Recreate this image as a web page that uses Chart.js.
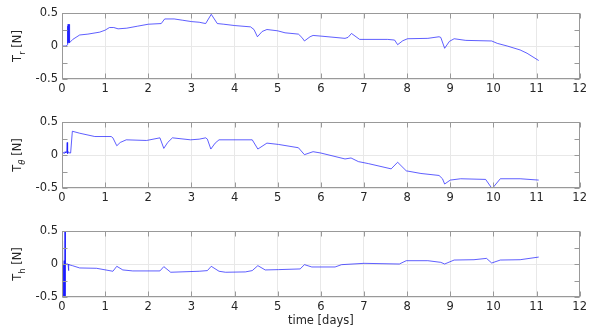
<!DOCTYPE html>
<html>
<head>
<meta charset="utf-8">
<script src="https://cdn.jsdelivr.net/npm/chart.js@4.4.1/dist/chart.umd.min.js"></script>
<style>
  body { margin: 0; background: #fff; width: 590px; height: 328px; position: relative; overflow: hidden; }
  canvas { position: absolute; left: 0; }
</style>
</head>
<body>
<canvas id="c1" width="590" height="99" style="top:0px"></canvas>
<canvas id="c2" width="590" height="99" style="top:109px"></canvas>
<canvas id="c3" width="590" height="110" style="top:218px"></canvas>
<script>
// x ticks (days) and y ticks shared by all three panels
var xTicks = [0,1,2,3,4,5,6,7,8,9,10,11,12];
var yTicks = [-0.5,-0.25,0,0.25,0.5];

// T_r
var trTime = [0,0.10,0.125,0.13,0.135,0.14,0.145,0.15,0.155,0.16,0.165,0.17,0.175,0.18,0.25,0.41,0.6,0.875,1.0,1.1,
  1.2,1.3,1.5,1.75,2.0,2.3,2.38,2.6,2.8,3.0,3.18,3.33,3.46,3.6,3.75,4.0,4.37,4.45,4.53,4.64,
  4.75,5.0,5.17,5.48,5.56,5.62,5.75,5.82,6.0,6.56,6.63,6.71,6.9,7.0,7.55,7.71,7.78,7.9,8.01,8.48,
  8.74,8.78,8.87,8.98,9.09,9.36,9.96,10.09,10.32,10.62,10.78,11.05];
var trValues = [0,0,0.02,0.30,0.04,0.33,0.05,0.32,0.06,0.30,0.05,0.33,0.07,0.05,0.10,0.167,0.18,0.21,0.24,0.28,
  0.28,0.26,0.27,0.30,0.33,0.34,0.41,0.41,0.39,0.37,0.36,0.34,0.48,0.34,0.33,0.31,0.29,0.25,0.14,0.22,
  0.25,0.23,0.20,0.18,0.13,0.076,0.14,0.16,0.15,0.116,0.13,0.19,0.10,0.10,0.10,0.09,0.02,0.08,0.11,0.116,
  0.14,0.13,-0.035,0.07,0.11,0.085,0.076,0.04,0.0,-0.06,-0.11,-0.22];

// T_theta
var tthTime = [0,0.03,0.05,0.07,0.09,0.11,0.12,0.13,0.15,0.17,0.2,0.24,0.41,0.76,1.14,1.18,1.27,1.35,1.49,1.96,
  2.27,2.36,2.45,2.56,2.98,3.18,3.33,3.37,3.45,3.55,3.64,4.41,4.54,4.75,5.02,5.48,5.62,5.82,6.0,6.56,
  6.7,6.87,7.1,7.63,7.78,7.98,8.32,8.74,8.82,8.87,9.0,9.24,9.82,9.97,10.16,10.62,11.05];
var tthValues = [0.02,0.04,0.02,0.05,0.03,0.06,0.19,0.02,0.05,0.03,0.03,0.36,0.33,0.28,0.28,0.26,0.14,0.19,0.23,0.22,
  0.26,0.10,0.19,0.26,0.23,0.24,0.26,0.24,0.09,0.18,0.23,0.23,0.09,0.18,0.16,0.11,0.005,0.05,0.03,-0.06,
  -0.045,-0.10,-0.13,-0.21,-0.11,-0.24,-0.28,-0.31,-0.36,-0.44,-0.38,-0.36,-0.37,-0.51,-0.36,-0.36,-0.38];

// T_h
var thTime = [0,0.005,0.01,0.015,0.02,0.025,0.03,0.035,0.04,0.045,0.05,0.055,0.06,0.065,0.07,0.075,0.08,0.14,0.15,0.16,
  0.24,0.41,0.8,1.18,1.27,1.41,1.64,2.27,2.36,2.52,3.18,3.37,3.46,3.64,3.79,4.25,4.41,4.54,4.71,5.02,
  5.52,5.62,5.79,6.33,6.48,7.0,7.82,7.98,8.48,8.78,8.87,9.09,9.55,9.84,9.96,10.16,10.62,11.05];
var thValues = [0,-0.9,0.1,-0.8,0.35,-0.9,0.0,-0.7,-0.02,-0.9,0.05,-0.8,0.0,-0.85,0.8,-0.6,0.0,0.0,-0.1,-0.01,
  -0.025,-0.06,-0.065,-0.11,-0.035,-0.09,-0.105,-0.105,-0.04,-0.125,-0.11,-0.10,-0.035,-0.11,-0.125,-0.12,-0.10,-0.025,-0.09,-0.085,
  -0.075,-0.01,-0.045,-0.045,-0.01,0.01,0.0,0.05,0.05,0.025,0.0,0.06,0.065,0.085,0.015,0.06,0.065,0.105];

var FONT = 'DejaVu Sans';
var TXT = '#262626';
var BOX = '#999999';
var GRID = '#e8e8e8';

function pts(xs, ys) {
  return xs.map(function (x, i) { return { x: x, y: ys[i] }; });
}

// box, inward ticks and the subscripted y label, drawn MATLAB style
var axesBox = {
  id: 'axesBox',
  afterDraw: function (chart, args, opts) {
    var ctx = chart.ctx, a = chart.chartArea;
    var L = Math.round(a.left) + 0.5, R = Math.round(a.right) - 0.5;
    var T = Math.round(a.top) + 0.5, B = Math.round(a.bottom) - 0.5;
    ctx.save();
    ctx.strokeStyle = BOX;
    ctx.lineWidth = 1;
    ctx.strokeRect(L, T, R - L, B - T);
    ctx.beginPath();
    xTicks.forEach(function (v) {
      var px = Math.round(chart.scales.x.getPixelForValue(v)) + 0.5;
      ctx.moveTo(px, B); ctx.lineTo(px, B - 5);
      ctx.moveTo(px, T); ctx.lineTo(px, T + 5);
    });
    yTicks.forEach(function (v) {
      var py = Math.round(chart.scales.y.getPixelForValue(v)) + 0.5;
      ctx.moveTo(L, py); ctx.lineTo(L + 5, py);
      ctx.moveTo(R, py); ctx.lineTo(R - 5, py);
    });
    ctx.stroke();

    // y label with subscript
    var main = '11.5px "' + FONT + '"';
    var small = (opts.italic ? 'italic ' : '') + '8.5px "' + FONT + '"';
    ctx.font = main;
    var wT = ctx.measureText('T').width, wN = ctx.measureText(' [N]').width;
    ctx.font = small;
    var wS = ctx.measureText(opts.sub).width;
    var total = wT + wS + wN;
    ctx.translate(18.5, (a.top + a.bottom) / 2);
    ctx.rotate(-Math.PI / 2);
    ctx.fillStyle = TXT;
    ctx.textBaseline = 'middle';
    ctx.textAlign = 'left';
    var x0 = -total / 2;
    ctx.font = main;
    ctx.fillText('T', x0, 0);
    ctx.font = small;
    ctx.fillText(opts.sub, x0 + wT, 4);
    ctx.font = main;
    ctx.fillText(' [N]', x0 + wT + wS, 0);
    ctx.restore();
  }
};

function makeChart(id, xs, ys, sub, italic, withTitle) {
  return new Chart(document.getElementById(id), {
    type: 'line',
    data: {
      datasets: [{
        data: pts(xs, ys),
        borderColor: '#1a1aff',
        borderWidth: 0.7,
        pointRadius: 0,
        tension: 0,
        fill: false
      }]
    },
    options: {
      responsive: false,
      animation: false,
      devicePixelRatio: 1,
      layout: { padding: { top: 13, left: 0, right: 7, bottom: 0 } },
      plugins: {
        legend: { display: false },
        tooltip: { enabled: false },
        axesBox: { sub: sub, italic: italic }
      },
      scales: {
        x: {
          type: 'linear',
          min: 0, max: 12,
          afterFit: function (s) { s.height = withTitle ? 31 : 20; },
          afterBuildTicks: function (s) { s.ticks = xTicks.map(function (v) { return { value: v }; }); },
          grid: { color: GRID, drawTicks: false },
          border: { display: false },
          ticks: { padding: 3, color: TXT, font: { family: FONT, size: 11.5 }, maxRotation: 0 },
          title: {
            display: withTitle,
            text: 'time [days]',
            color: TXT,
            font: { family: FONT, size: 11.5 },
            padding: { top: 0, bottom: 0 }
          }
        },
        y: {
          min: -0.5, max: 0.5,
          afterFit: function (s) { s.width = 62; },
          afterBuildTicks: function (s) { s.ticks = yTicks.map(function (v) { return { value: v }; }); },
          grid: { color: GRID, drawTicks: false },
          border: { display: false },
          ticks: { padding: 4, color: TXT, font: { family: FONT, size: 11.5 } }
        }
      }
    },
    plugins: [axesBox]
  });
}

makeChart('c1', trTime, trValues, 'r', false, false);
makeChart('c2', tthTime, tthValues, '\u03B8', true, false);
makeChart('c3', thTime, thValues, 'h', false, true);
</script>
</body>
</html>
